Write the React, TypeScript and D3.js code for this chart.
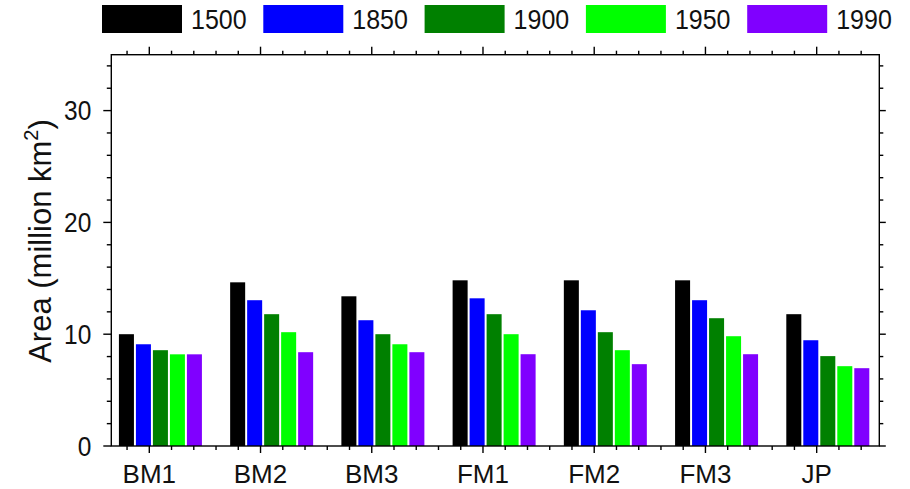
import React from "react";
import * as d3 from "d3";

const categories = ["BM1", "BM2", "BM3", "FM1", "FM2", "FM3", "JP"];
const seriesNames = ["1500", "1850", "1900", "1950", "1990"];
const seriesColors = ["#000000", "#0000FF", "#008000", "#00FF00", "#8000FF"];
const v1500 = [10.0, 14.64, 13.39, 14.82, 14.82, 14.82, 11.79];
const v1850 = [9.1, 13.04, 11.25, 13.21, 12.14, 13.04, 9.46];
const v1900 = [8.57, 11.79, 10.0, 11.79, 10.18, 11.43, 8.04];
const v1950 = [8.2, 10.18, 9.1, 10.0, 8.57, 9.82, 7.14];
const v1990 = [8.2, 8.39, 8.39, 8.21, 7.32, 8.21, 6.96];
const seriesValues = [v1500, v1850, v1900, v1950, v1990];
const yTicks = [0, 10, 20, 30];

const W = 910;
const H = 489;
const left = 111.3;
const right = 879.3;
const top = 54.7;
const bottom = 446;
const FONT = "'Liberation Sans', Arial, sans-serif";

export default function App() {
  const x = d3.scaleLinear().domain([0.6584, 7.563]).range([left, right]);
  const y = d3.scaleLinear().domain([0, 35]).range([bottom, top]);

  const yMinor = d3.range(0, 35.001, 2).filter((v) => v % 10 !== 0);
  const xMajor = d3.range(1, 8);
  const xMinor = d3.range(0.8, 7.5, 0.2).filter((v) => Math.abs(v - Math.round(v)) > 0.01);

  const barStep = 0.1528;
  const barW = 0.135;
  const groupOffset = 0.1;

  const stroke = "#000";
  const sw = 1.4;

  return (
    <svg
      width={W}
      height={H}
      style={{ position: "absolute", left: 0, top: 0, background: "#fff" }}
      fontFamily={FONT}
    >
      <rect x={0} y={0} width={W} height={H} fill="#fff" />
      {/* bars */}
      {categories.map((c, ci) =>
        seriesValues.map((vals, si) => {
          const center = ci + 1 + groupOffset + (si - 2) * barStep;
          const x0 = x(center - barW / 2);
          const x1 = x(center + barW / 2);
          return (
            <rect
              key={c + si}
              x={x0}
              y={y(vals[ci])}
              width={x1 - x0}
              height={y(0) - y(vals[ci])}
              fill={seriesColors[si]}
            />
          );
        })
      )}
      {/* frame */}
      <rect x={left} y={top} width={right - left} height={bottom - top} fill="none" stroke={stroke} strokeWidth={sw} />
      {/* left axis ticks */}
      {yTicks.map((t) => (
        <g key={"yl" + t}>
          <line x1={left - 8} x2={left} y1={y(t)} y2={y(t)} stroke={stroke} strokeWidth={sw} />
          <line x1={right} x2={right + 6.5} y1={y(t)} y2={y(t)} stroke={stroke} strokeWidth={sw} />
          <g transform={`translate(${left - 20}, ${y(t)}) scale(1, 1.1)`}>
            <text x={0} y={0} dy="0.36em" textAnchor="end" fontSize={24.5} fill="#111">
              {t}
            </text>
          </g>
        </g>
      ))}
      {yMinor.map((t) => (
        <g key={"ym" + t}>
          <line x1={left - 4.5} x2={left} y1={y(t)} y2={y(t)} stroke={stroke} strokeWidth={sw} />
          <line x1={right} x2={right + 4} y1={y(t)} y2={y(t)} stroke={stroke} strokeWidth={sw} />
        </g>
      ))}
      {/* x axis ticks */}
      {xMajor.map((t, i) => (
        <g key={"xM" + t}>
          <line x1={x(t)} x2={x(t)} y1={bottom} y2={bottom + 7} stroke={stroke} strokeWidth={sw} />
          <line x1={x(t)} x2={x(t)} y1={top} y2={top - 8} stroke={stroke} strokeWidth={sw} />
          <text x={x(t)} y={483.3} textAnchor="middle" fontSize={26} fill="#111">
            {categories[i]}
          </text>
        </g>
      ))}
      {xMinor.map((t) => (
        <g key={"xm" + t.toFixed(1)}>
          <line x1={x(t)} x2={x(t)} y1={bottom} y2={bottom + 4} stroke={stroke} strokeWidth={sw} />
          <line x1={x(t)} x2={x(t)} y1={top} y2={top - 4} stroke={stroke} strokeWidth={sw} />
        </g>
      ))}
      {/* y label */}
      <text
        transform={`translate(51, 241) rotate(-90)`}
        textAnchor="middle"
        fontSize={31}
        fill="#111"
      >
        Area (million km
        <tspan fontSize={20} dy={-13}>2</tspan>
        <tspan dy={13}>)</tspan>
      </text>
      {/* legend */}
      {seriesNames.map((n, i) => {
        const lx = 102 + i * 161.3;
        return (
          <g key={"lg" + n}>
            <rect x={lx} y={5} width={80} height={28} fill={seriesColors[i]} />
            <g transform={`translate(${lx + 89}, 29) scale(1, 1.08)`}>
              <text x={0} y={0} fontSize={25} fill="#111">
                {n}
              </text>
            </g>
          </g>
        );
      })}
    </svg>
  );
}
